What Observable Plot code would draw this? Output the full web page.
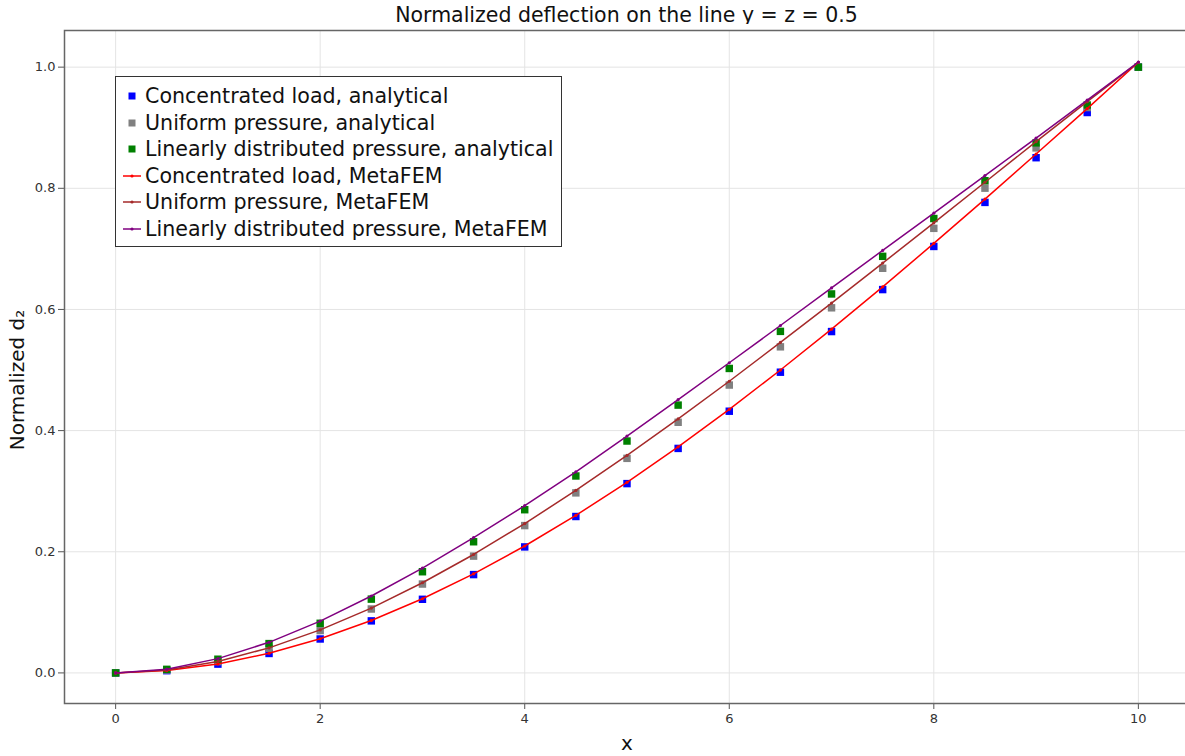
<!DOCTYPE html>
<html><head><meta charset="utf-8">
<script src="https://cdn.jsdelivr.net/npm/d3@7"></script>
<script src="https://cdn.jsdelivr.net/npm/@observablehq/plot@0.6"></script>
<style>
body{margin:0;overflow:hidden;background:#fff;font-family:"DejaVu Sans",sans-serif;}
#wrap{position:relative;width:1185px;height:756px;overflow:hidden;}
#title{position:absolute;left:0;top:3px;width:1253px;text-align:center;font-size:20.5px;line-height:24px;color:#111;}
#chart{position:absolute;left:0;top:24px;}
#chart svg{max-width:none !important;}
#ylab{position:absolute;left:17px;top:380px;transform:translate(-50%,-50%) rotate(-90deg);font-size:20px;color:#111;white-space:nowrap;}
#xlab{position:absolute;left:627px;top:743px;transform:translate(-50%,-50%);font-size:20px;color:#111;}
#legend{position:absolute;left:115px;top:76px;width:445px;height:169px;border:1px solid #333;background:#fff;box-sizing:content-box;}
.row{position:absolute;left:0;height:26px;display:flex;align-items:center;font-size:20.6px;color:#111;white-space:nowrap;}
.row svg{margin-left:6px;margin-right:3px;}
</style></head>
<body><div id="wrap">
<div id="title">Normalized deflection on the line y = z = 0.5</div>
<div id="chart"></div>
<div id="ylab">Normalized d₂</div>
<div id="xlab">x</div>
<div id="legend"></div>
</div>
<script>
const xs = [0,0.5,1,1.5,2,2.5,3,3.5,4,4.5,5,5.5,6,6.5,7,7.5,8,8.5,9,9.5,10];
const concAnalytical = [0,0.0037,0.0145,0.0321,0.056,0.0859,0.1215,0.1623,0.208,0.2582,0.3125,0.3706,0.432,0.4964,0.5635,0.6328,0.704,0.7767,0.8505,0.9251,1.0];
const unifAnalytical = [0,0.0048,0.0187,0.0407,0.0699,0.1055,0.1467,0.1928,0.2432,0.2972,0.3542,0.4137,0.4752,0.5383,0.6027,0.668,0.7339,0.8002,0.8667,0.9333,1.0];
const linAnalytical = [0,0.0059,0.0226,0.0484,0.0819,0.1218,0.167,0.2165,0.2694,0.3251,0.3828,0.4421,0.5026,0.5638,0.6256,0.6877,0.7501,0.8125,0.875,0.9375,1.0];
const concMeta = [0,0.0038,0.0146,0.0323,0.0564,0.0866,0.1224,0.1635,0.2095,0.26,0.3147,0.3732,0.4351,0.5,0.5675,0.6373,0.709,0.7822,0.8566,0.9316,1.008];
const unifMeta = [0,0.0049,0.019,0.0413,0.071,0.107,0.1488,0.1955,0.2465,0.3012,0.359,0.4192,0.4815,0.5455,0.6105,0.6765,0.743,0.81,0.877,0.943,1.008];
const linMeta = [0,0.0062,0.0236,0.0505,0.0855,0.127,0.173,0.2235,0.276,0.332,0.391,0.451,0.512,0.5735,0.6355,0.6975,0.759,0.821,0.883,0.9455,1.0085];

const seriesNames = ["Concentrated load, analytical","Uniform pressure, analytical","Linearly distributed pressure, analytical","Concentrated load, MetaFEM","Uniform pressure, MetaFEM","Linearly distributed pressure, MetaFEM"];
const seriesColors = ["#0000ff","#808080","#008000","#ff0000","#a52a2a","#800080"];
const seriesValues = [concAnalytical,unifAnalytical,linAnalytical,concMeta,unifMeta,linMeta];
const yTicks = [0,0.2,0.4,0.6,0.8,1.0];
const xTicks = [0,2,4,6,8,10];

const rows = [];
seriesValues.forEach((vals,si)=>vals.forEach((v,i)=>rows.push({series:seriesNames[si],x:xs[i],y:v})));
const analytical = rows.filter(d=>d.series.endsWith("analytical"));
const meta = rows.filter(d=>d.series.endsWith("MetaFEM"));

const plot = Plot.plot({
  width:1190, height:732,
  marginLeft:64, marginRight:1, marginTop:6, marginBottom:53,
  style:{fontFamily:"DejaVu Sans, sans-serif", background:"#fff", color:"#333", maxWidth:"none"},
  x:{domain:[-0.5,10.5]},
  y:{domain:[-0.0505,1.0605]},
  color:{domain:seriesNames, range:seriesColors},
  marks:[
    Plot.gridX(xTicks,{stroke:"#e4e4e4",strokeOpacity:1,strokeWidth:1}),
    Plot.gridY(yTicks,{stroke:"#e4e4e4",strokeOpacity:1,strokeWidth:1}),
    Plot.axisX(xTicks,{tickSize:6,tickPadding:4,fontSize:13,stroke:"#555",fill:"#333",label:null,tickFormat:d=>String(d)}),
    Plot.axisY(yTicks,{tickSize:6,tickPadding:3,fontSize:13,stroke:"#555",fill:"#333",label:null,tickFormat:d=>d.toFixed(1)}),
    Plot.dot(analytical,{x:"x",y:"y",fill:"series",symbol:"square",r:4.2,stroke:null}),
    Plot.line(meta,{x:"x",y:"y",z:"series",stroke:"series",strokeWidth:1.5}),
    Plot.dot(meta,{x:"x",y:"y",fill:"series",r:1.6,stroke:null}),
    Plot.frame({stroke:"#666",strokeWidth:1.5})
  ]
});
document.getElementById("chart").appendChild(plot);

const legend = document.getElementById("legend");
seriesNames.forEach((name,i)=>{
  const row = document.createElement("div");
  row.className = "row";
  row.style.top = (6 + i*26.6) + "px";
  const isLine = name.endsWith("MetaFEM");
  const icon = isLine
    ? `<svg width="20" height="10"><line x1="1" y1="5" x2="19" y2="5" stroke="${seriesColors[i]}" stroke-width="1.5"/><circle cx="10" cy="5" r="1.6" fill="${seriesColors[i]}"/></svg>`
    : `<svg width="20" height="10"><rect x="6.5" y="1.5" width="7" height="7" fill="${seriesColors[i]}"/></svg>`;
  row.innerHTML = icon + "<span>" + name + "</span>";
  legend.appendChild(row);
});
</script>
</body></html>
